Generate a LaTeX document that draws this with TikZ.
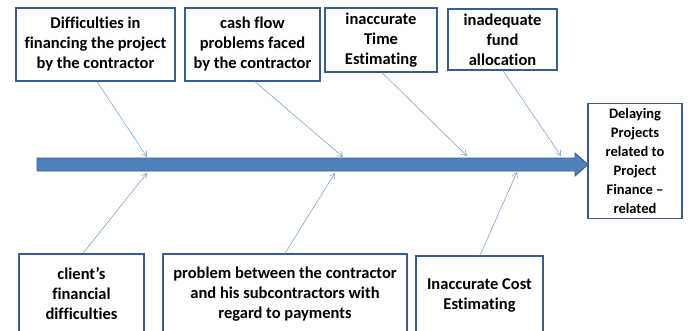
\documentclass[tikz,border=0pt]{standalone}
\usepackage{fontspec}
\setmainfont{Carlito}[Ligatures=NoCommon]
\usetikzlibrary{arrows.meta}
\definecolor{boxc}{HTML}{385D8A}
\definecolor{spinefill}{HTML}{4F81BD}
\definecolor{connc}{HTML}{7DA3D3}
\tikzset{
  box/.style={draw=boxc, line width=1.3pt, fill=white, align=center,
    font=\fontsize{16.5}{20}\selectfont\bfseries, inner sep=0pt},
  conn/.style={draw=connc, line width=0.6pt, -{Straight Barb[length=5pt,width=6pt]}},
}
\begin{document}
\begin{tikzpicture}[x=1pt,y=-1pt]
\useasboundingbox (0,0) rectangle (690,330);
\clip (0,0) rectangle (690,330);
% boxes top
\node[box, minimum width=159pt, minimum height=73pt] (b1) at (95.5,44.5) {Difficulties in\\financing the project\\by the contractor};
\node[box, minimum width=135pt, minimum height=73pt] (b2) at (252.5,44.5) {cash flow\\problems faced\\by the contractor};
\node[box, minimum width=112pt, minimum height=64pt] (b3) at (381,40) {inaccurate\\Time\\Estimating};
\node[box, minimum width=109pt, minimum height=61pt] (b4) at (502.5,39.5) {inadequate\\fund\\allocation};
% effect
\node[box, minimum width=94pt, minimum height=115pt, font=\fontsize{14.5}{19}\selectfont\bfseries] (eff) at (635,161) {Delaying\\Projects\\related to\\Project\\Finance --\\related};
% bottom boxes
\node[box, minimum width=125pt, minimum height=80pt] (b6) at (81.5,294) {client{\char"0027}s\\financial\\difficulties};
\node[box, minimum width=244pt, minimum height=80pt] (b7) at (285,294) {problem between the contractor\\and his subcontractors with\\regard to payments};
\node[box, minimum width=127pt, minimum height=78pt] (b8) at (479.5,295) {Inaccurate Cost\\Estimating};
% spine
\coordinate (tail) at (37,164.5);
\coordinate (tip) at (eff.west);
\fill[spinefill, draw=boxc, line width=0.9pt]
  (37,158) -- (575,158) -- (575,153) -- (588,164.5) -- (575,176) -- (575,171) -- (37,171) -- cycle;
% spine end points
\coordinate (e1) at (147,157);
\coordinate (e2) at (343,157);
\coordinate (e3) at (467,156);
\coordinate (e4) at (561,156);
\coordinate (e6) at (147,173);
\coordinate (e7) at (335,173);
\coordinate (e8) at (517,172);
% connectors
\draw[conn] ([xshift=1.5pt]b1.south) -- (e1);
\draw[conn] ([xshift=2.5pt]b2.south) -- (e2);
\draw[conn] ([xshift=1pt]b3.south) -- (e3);
\draw[conn] ([xshift=0.5pt]b4.south) -- (e4);
\draw[conn] ([xshift=1.5pt]b6.north) -- (e6);
\draw[conn] (b7.north) -- (e7);
\draw[conn] ([xshift=0.5pt]b8.north) -- (e8);
\end{tikzpicture}
\end{document}
